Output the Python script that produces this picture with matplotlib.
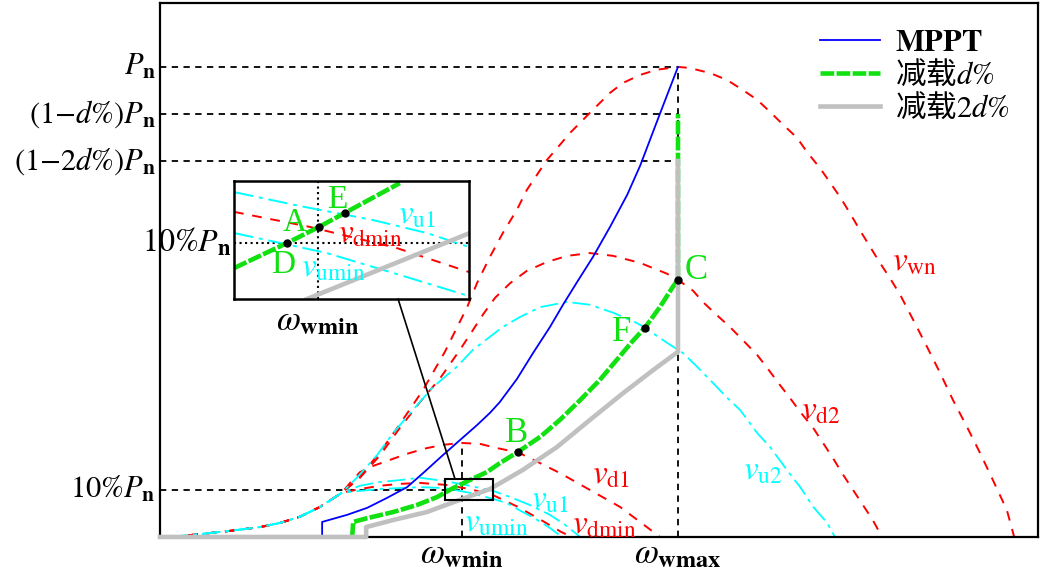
import matplotlib
matplotlib.use("Agg")
import matplotlib.pyplot as plt
from matplotlib.patches import Rectangle, ConnectionPatch

plt.rcParams['font.family'] = ['Liberation Serif', 'Noto Sans CJK SC']
plt.rcParams['mathtext.fontset'] = 'stix'

# normalised units: omega / omega_wmax, P / Pn
w_wmin = 0.583
w_wmax = 1.0
d = 0.1
p_marks = [1.0, 1 - d, 1 - 2 * d]
p_low = 0.1

# common low-speed part of all wind-speed curves
base_w = [0.019, 0.077, 0.135, 0.193, 0.232, 0.270, 0.309, 0.351]
base_p = [0.0, 0.006, 0.013, 0.021, 0.030, 0.043, 0.064, 0.094]

vwn_w = [0.386, 0.425, 0.463, 0.508, 0.550, 0.593, 0.612, 0.637, 0.662, 0.689, 0.708, 0.747,
         0.792, 0.836, 0.869, 0.894, 0.927, 0.959, 1.0, 1.021, 1.062, 1.095, 1.125, 1.153,
         1.178, 1.203, 1.230, 1.249, 1.274, 1.293, 1.313, 1.332, 1.351, 1.371, 1.390, 1.409,
         1.429, 1.454, 1.481, 1.506, 1.531, 1.558, 1.583, 1.608, 1.635, 1.649]
vwn_p = [0.128, 0.181, 0.240, 0.313, 0.394, 0.489, 0.540, 0.596, 0.647, 0.696, 0.738, 0.802,
         0.860, 0.909, 0.945, 0.966, 0.983, 0.994, 1.0, 0.998, 0.987, 0.972, 0.951, 0.930,
         0.904, 0.877, 0.849, 0.819, 0.785, 0.755, 0.723, 0.689, 0.653, 0.617, 0.583, 0.551,
         0.515, 0.462, 0.404, 0.349, 0.291, 0.234, 0.179, 0.121, 0.057, 0.0]

vd2_w = [0.386, 0.425, 0.463, 0.502, 0.541, 0.579, 0.604, 0.624, 0.647, 0.676, 0.708, 0.747,
         0.786, 0.830, 0.875, 0.927, 0.979, 1.0, 1.029, 1.048, 1.075, 1.100, 1.125, 1.153,
         1.172, 1.197, 1.216, 1.236, 1.261, 1.280, 1.299, 1.319, 1.338, 1.357, 1.376, 1.394]
vd2_p = [0.126, 0.174, 0.232, 0.287, 0.338, 0.398, 0.440, 0.474, 0.509, 0.540, 0.566, 0.585,
         0.598, 0.604, 0.598, 0.583, 0.560, 0.547, 0.524, 0.500, 0.472, 0.447, 0.419, 0.387,
         0.360, 0.323, 0.296, 0.266, 0.232, 0.200, 0.168, 0.132, 0.100, 0.068, 0.036, 0.0]

vu2_w = [0.380, 0.419, 0.450, 0.488, 0.527, 0.573, 0.604, 0.637, 0.662, 0.695, 0.734, 0.786,
         0.830, 0.875, 0.921, 0.936, 0.979, 1.010, 1.037, 1.062, 1.095, 1.120, 1.153, 1.178,
         1.210, 1.236, 1.261, 1.288, 1.303]
vu2_p = [0.126, 0.174, 0.221, 0.270, 0.319, 0.362, 0.398, 0.426, 0.447, 0.468, 0.489, 0.500,
         0.494, 0.477, 0.455, 0.445, 0.413, 0.391, 0.362, 0.334, 0.296, 0.270, 0.221, 0.191,
         0.143, 0.106, 0.064, 0.030, 0.0]

vd1_w = [0.367, 0.386, 0.411, 0.444, 0.477, 0.515, 0.546, 0.583, 0.618, 0.651, 0.691, 0.714,
         0.772, 0.830, 0.888, 0.940, 0.965]
vd1_p = [0.115, 0.138, 0.151, 0.164, 0.177, 0.189, 0.196, 0.200, 0.198, 0.189, 0.180, 0.168,
         0.136, 0.100, 0.064, 0.021, 0.0]

vu1_w = [0.386, 0.425, 0.463, 0.502, 0.550, 0.598, 0.643, 0.676, 0.714, 0.753, 0.782, 0.811]
vu1_p = [0.109, 0.117, 0.121, 0.126, 0.119, 0.109, 0.098, 0.085, 0.068, 0.047, 0.026, 0.0]

vdmin_w = [0.386, 0.425, 0.463, 0.502, 0.550, 0.598, 0.643, 0.691, 0.739, 0.774, 0.795]
vdmin_p = [0.102, 0.109, 0.113, 0.115, 0.111, 0.102, 0.089, 0.064, 0.034, 0.011, 0.0]

vumin_w = [0.386, 0.425, 0.463, 0.502, 0.550, 0.598, 0.643, 0.670, 0.697, 0.726, 0.753, 0.776]
vumin_p = [0.098, 0.102, 0.104, 0.106, 0.104, 0.094, 0.081, 0.072, 0.055, 0.038, 0.019, 0.0]

mppt_w = [0.313, 0.313, 0.361, 0.400, 0.438, 0.477, 0.508, 0.546, 0.579, 0.612, 0.637, 0.656,
          0.689, 0.720, 0.753, 0.778, 0.805, 0.836, 0.869, 0.902, 0.927, 0.965, 1.0]
mppt_p = [0.0, 0.032, 0.047, 0.062, 0.083, 0.106, 0.136, 0.174, 0.206, 0.238, 0.264, 0.287,
          0.336, 0.391, 0.447, 0.494, 0.542, 0.596, 0.660, 0.728, 0.790, 0.900, 1.0]

dl1_w = [0.371, 0.373, 0.400, 0.450, 0.496, 0.535, 0.566, 0.598, 0.631, 0.656, 0.691, 0.734,
         0.772, 0.811, 0.849, 0.882, 0.911, 0.936, 0.965, 0.990, 1.0, 1.0]
dl1_p = [0.0, 0.032, 0.040, 0.053, 0.068, 0.085, 0.104, 0.121, 0.138, 0.157, 0.181, 0.213,
         0.249, 0.291, 0.334, 0.377, 0.415, 0.445, 0.489, 0.532, 0.547, 0.9]

dl2_w = [0.0, 0.398, 0.398, 0.450, 0.515, 0.579, 0.637, 0.701, 0.766, 0.830, 0.894, 0.952, 1.0, 1.0]
dl2_p = [0.0, 0.0, 0.021, 0.036, 0.053, 0.079, 0.102, 0.143, 0.191, 0.249, 0.306, 0.355, 0.394, 0.8]

pts_main = {'B': (0.691, 0.180), 'F': (0.936, 0.445), 'C': (1.0, 0.547)}

# zoomed window around (w_wmin, 10%Pn)
zoom_w = (0.5499, 0.6426)
zoom_p = (0.0788, 0.1235)
z_green_w = [0.5499, 0.5708, 0.5834, 0.5936, 0.6153]
z_green_p = [0.0905, 0.1000, 0.1061, 0.1114, 0.1227]
z_vu1_w = [0.5499, 0.5759, 0.6047, 0.6259, 0.6426]
z_vu1_p = [0.1193, 0.1140, 0.1087, 0.1038, 0.0985]
z_vdmin_w = [0.5499, 0.5798, 0.6141, 0.6426]
z_vdmin_p = [0.1118, 0.1061, 0.0981, 0.0890]
z_vumin_w = [0.5499, 0.5865, 0.6153, 0.6426]
z_vumin_p = [0.1038, 0.0962, 0.0879, 0.0799]
z_gray_w = [0.5787, 0.6429]
z_gray_p = [0.0788, 0.1038]
pts_zoom = {'D': (0.5708, 0.1000), 'A': (0.5834, 0.1061), 'E': (0.5936, 0.1114)}

RED = '#ff0000'
CYAN = '#00ffff'
GREEN = '#11e011'
GRAY = '#c0c0c0'
red_ls = (0, (5, 4.5))
cyan_ls = (0, (10, 3, 2, 3))
blk_ls = (0, (3.5, 3))
green_ls = (0, (3, 0.5))

fig = plt.figure(figsize=(10.43, 5.74), dpi=100)
ax = fig.add_axes([0.1534, 0.0645, 0.8418, 0.9303])
ax.set_xlim(0, 1.695)
ax.set_ylim(0, 1.136)
ax.set_xticks([])
ax.set_yticks([])
for s in ax.spines.values():
    s.set_linewidth(1.6)

# helper lines
for p in p_marks:
    ax.plot([0, w_wmax], [p, p], color='k', lw=1.3, ls=blk_ls, zorder=1)
ax.plot([0, w_wmin], [p_low, p_low], color='k', lw=1.3, ls=blk_ls, zorder=1)
ax.plot([w_wmax, w_wmax], [0, 1.0], color='k', lw=1.3, ls=blk_ls, zorder=1)
ax.plot([w_wmin, w_wmin], [0, 0.196], color='k', lw=1.3, ls=blk_ls, zorder=1)

for cw, cp in [(vwn_w, vwn_p), (vd2_w, vd2_p), (vd1_w, vd1_p), (vdmin_w, vdmin_p)]:
    ax.plot(base_w + cw, base_p + cp, color=RED, lw=1.4, ls=red_ls, zorder=2)
for cw, cp in [(vu2_w, vu2_p), (vu1_w, vu1_p), (vumin_w, vumin_p)]:
    ax.plot(base_w + cw, base_p + cp, color=CYAN, lw=1.3, ls=cyan_ls, zorder=2)

ax.plot(mppt_w, mppt_p, color='#0000ff', lw=1.3, zorder=3, label=r'$\mathbf{MPPT}$')
ax.plot(dl1_w, dl1_p, color=GREEN, lw=3.3, ls=green_ls, zorder=3,
        label='减载$d\\%$')
ax.plot(dl2_w, dl2_p, color=GRAY, lw=3.3, zorder=4, clip_on=False,
        label='减载$2d\\%$')

for k, (w, p) in pts_main.items():
    ax.plot(w, p, 'o', color='k', ms=5, zorder=5)

ax.add_patch(Rectangle((zoom_w[0], zoom_p[0]), zoom_w[1] - zoom_w[0], zoom_p[1] - zoom_p[0],
                       fill=False, ec='k', lw=1.5, zorder=6))

# labels
fs = 22
ax.text(-0.008, 1.0, r'$P_{\mathbf{n}}$', ha='right', va='center', fontsize=fs)
ax.text(-0.008, 1 - d, r'$(1\mathrm{-}d\%)P_{\mathbf{n}}$', ha='right', va='center', fontsize=fs)
ax.text(-0.008, 1 - 2 * d, r'$(1\mathrm{-}2d\%)P_{\mathbf{n}}$', ha='right', va='center', fontsize=fs)
ax.text(-0.008, p_low, r'$10\%P_{\mathbf{n}}$', ha='right', va='center', fontsize=fs)
ax.text(0.139, 0.626, r'$10\%P_{\mathbf{n}}$', ha='right', va='center', fontsize=23)
ax.text(w_wmin, -0.038, r'$\omega_{\mathbf{wmin}}$', ha='center', va='center', fontsize=25, clip_on=False)
ax.text(w_wmax, -0.038, r'$\omega_{\mathbf{wmax}}$', ha='center', va='center', fontsize=25, clip_on=False)
ax.text(0.305, 0.457, r'$\omega_{\mathbf{wmin}}$', ha='center', va='center', fontsize=25)

ax.text(1.035, 0.566, 'C', color=GREEN, ha='center', va='center', fontsize=25)
ax.text(0.892, 0.434, 'F', color=GREEN, ha='center', va='center', fontsize=25)
ax.text(0.689, 0.221, 'B', color=GREEN, ha='center', va='center', fontsize=25)

ax.text(1.456, 0.585, r'$v_{\mathrm{wn}}$', color=RED, ha='center', va='center', fontsize=24)
ax.text(1.276, 0.268, r'$v_{\mathrm{d2}}$', color=RED, ha='center', va='center', fontsize=24)
ax.text(1.164, 0.140, r'$v_{\mathrm{u2}}$', color=CYAN, ha='center', va='center', fontsize=24)
ax.text(0.871, 0.132, r'$v_{\mathrm{d1}}$', color=RED, ha='center', va='center', fontsize=24)
ax.text(0.753, 0.079, r'$v_{\mathrm{u1}}$', color=CYAN, ha='center', va='center', fontsize=24)
ax.text(0.650, 0.030, r'$v_{\mathrm{umin}}$', color=CYAN, ha='center', va='center', fontsize=24)
ax.text(0.858, 0.025, r'$v_{\mathrm{dmin}}$', color=RED, ha='center', va='center', fontsize=24)

ax.legend(loc='upper left', bbox_to_anchor=(0.752, 0.955), frameon=False,
          prop={'family': 'Noto Sans CJK SC', 'size': 22}, handlelength=1.95,
          handletextpad=0.5, labelspacing=0.05, borderpad=0, borderaxespad=0)

# inset
axin = fig.add_axes([0.2244, 0.4791, 0.2253, 0.2056])
axin.set_xlim(*zoom_w)
axin.set_ylim(*zoom_p)
axin.set_xticks([])
axin.set_yticks([])
for s in axin.spines.values():
    s.set_linewidth(1.8)
axin.axhline(p_low, color='k', lw=1.5, ls=':')
axin.axvline(w_wmin, color='k', lw=1.5, ls=':')
axin.plot(z_vu1_w, z_vu1_p, color=CYAN, lw=1.4, ls=cyan_ls)
axin.plot(z_vumin_w, z_vumin_p, color=CYAN, lw=1.4, ls=cyan_ls)
axin.plot(z_vdmin_w, z_vdmin_p, color=RED, lw=1.4, ls=red_ls)
axin.plot(z_gray_w, z_gray_p, color=GRAY, lw=3.3)
axin.plot(z_green_w, z_green_p, color=GREEN, lw=3.3, ls=green_ls)
for k, (w, p) in pts_zoom.items():
    axin.plot(w, p, 'o', color='k', ms=5, zorder=5)
axin.text(0.26, 0.65, 'A', color=GREEN, transform=axin.transAxes, ha='center', va='center', fontsize=24)
axin.text(0.44, 0.84, 'E', color=GREEN, transform=axin.transAxes, ha='center', va='center', fontsize=24)
axin.text(0.21, 0.29, 'D', color=GREEN, transform=axin.transAxes, ha='center', va='center', fontsize=24)
axin.text(0.78, 0.71, r'$v_{\mathrm{u1}}$', color=CYAN, transform=axin.transAxes, ha='center', va='center', fontsize=24)
axin.text(0.58, 0.55, r'$v_{\mathrm{dmin}}$', color=RED, transform=axin.transAxes, ha='center', va='center', fontsize=24)
axin.text(0.42, 0.26, r'$v_{\mathrm{umin}}$', color=CYAN, transform=axin.transAxes, ha='center', va='center', fontsize=24)

con = ConnectionPatch(xyA=(0.698, 0.0), coordsA=axin.transAxes,
                      xyB=(0.5695, zoom_p[1]), coordsB=ax.transData, color='k', lw=1.2)
fig.add_artist(con)

fig.savefig('out.png', dpi=100)
